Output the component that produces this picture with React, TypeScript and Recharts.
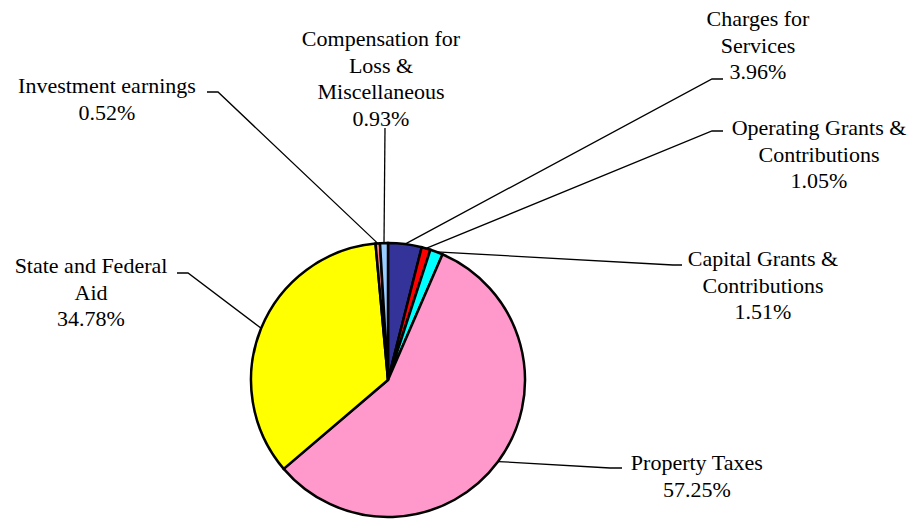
import React from 'react';
import { PieChart, Pie, Cell } from 'recharts';

const categories = [
  'Charges for Services',
  'Operating Grants & Contributions',
  'Capital Grants & Contributions',
  'Property Taxes',
  'State and Federal Aid',
  'Investment earnings',
  'Compensation for Loss & Miscellaneous',
];
const shares = [3.96, 1.05, 1.51, 57.25, 34.78, 0.52, 0.93];
const sliceColors = ['#333399', '#FF0000', '#00FFFF', '#FF99CC', '#FFFF00', '#FF8080', '#99CCFF'];
const labelLines = [
  ['Charges for', 'Services'],
  ['Operating Grants &', 'Contributions'],
  ['Capital Grants &', 'Contributions'],
  ['Property Taxes'],
  ['State and Federal', 'Aid'],
  ['Investment earnings'],
  ['Compensation for', 'Loss &', 'Miscellaneous'],
];

// label layout: text centre x, first line y, leader elbow, tick end
const labelLayout = [
  { tx: 758, ty: 18, ex: 712, ey: 79, kx: 723 },
  { tx: 819, ty: 127, ex: 712, ey: 131, kx: 723 },
  { tx: 763, ty: 258, ex: 673, ey: 265, kx: 682 },
  { tx: 697, ty: 462, ex: 610, ey: 468, kx: 622 },
  { tx: 91, ty: 265, ex: 188, ey: 273, kx: 177 },
  { tx: 107, ty: 85, ex: 218, ey: 92, kx: 207 },
  { tx: 381, ty: 38, ex: 385, ey: 128, kx: 385 },
];

const data = categories.map((name, i) => ({ name, value: shares[i] }));

const RAD = Math.PI / 180;
const LINE_H = 26.5;
const FONT_SIZE = 22;
const FONT = 'Liberation Serif';

let ctx: CanvasRenderingContext2D | null = null;
function textWidth(t: string) {
  if (!ctx) {
    ctx = document.createElement('canvas').getContext('2d');
  }
  if (!ctx) return t.length * FONT_SIZE * 0.45;
  ctx.font = `${FONT_SIZE}px "${FONT}"`;
  return ctx.measureText(t).width;
}

function renderLabel(props: any) {
  const { cx, cy, midAngle, outerRadius, index } = props;
  const l = labelLayout[index];
  const sx = cx + outerRadius * Math.cos(-midAngle * RAD);
  const sy = cy + outerRadius * Math.sin(-midAngle * RAD);
  const lines = [...labelLines[index], `${shares[index].toFixed(2)}%`];
  return (
    <g key={`lbl-${index}`}>
      <polyline
        points={`${sx},${sy} ${l.ex},${l.ey} ${l.kx},${l.ey}`}
        fill="none"
        stroke="#000"
        strokeWidth={1.3}
      />
      {lines.map((t, j) => (
        <text
          key={j}
          x={l.tx - textWidth(t) / 2}
          y={l.ty + j * LINE_H + 8}
          fontFamily={FONT}
          fontSize={FONT_SIZE}
        >
          {t}
        </text>
      ))}
    </g>
  );
}

export default function App() {
  return (
    <div style={{ position: 'absolute', left: 0, top: 0, background: '#fff' }}>
      <PieChart width={919} height={521} margin={{ top: 0, right: 0, bottom: 0, left: 0 }}>
        <Pie
          data={data}
          dataKey="value"
          nameKey="name"
          cx={388}
          cy={380}
          outerRadius={137}
          startAngle={90}
          endAngle={-270}
          stroke="#000"
          strokeWidth={2.5}
          label={renderLabel}
          labelLine={false}
          isAnimationActive={false}
        >
          {data.map((d, i) => (
            <Cell key={d.name} fill={sliceColors[i]} />
          ))}
        </Pie>
      </PieChart>
    </div>
  );
}
